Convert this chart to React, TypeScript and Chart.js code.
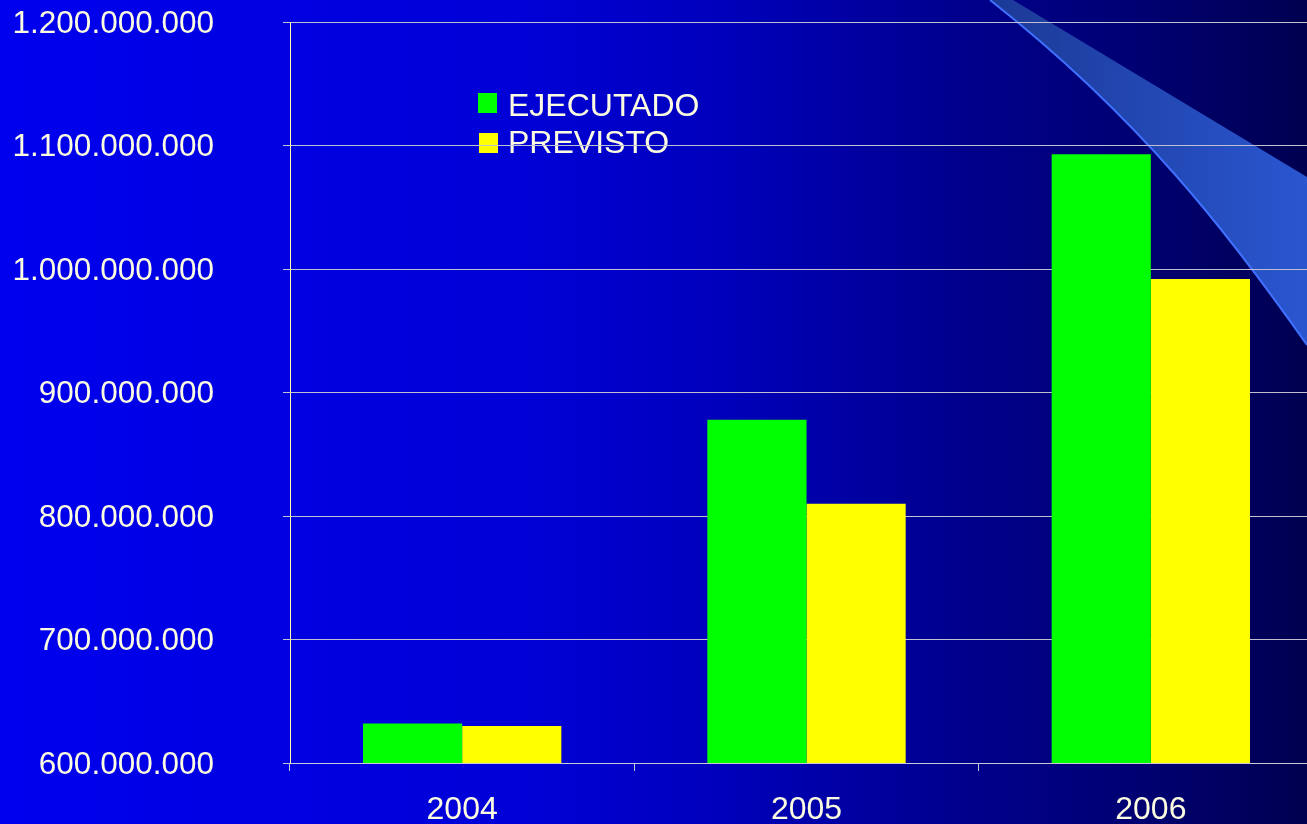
import React, { useEffect, useRef } from "react";
import { Chart, registerables } from "chart.js";

Chart.register(...registerables);

const categories = ["2004", "2005", "2006"];
const seriesNames = ["EJECUTADO", "PREVISTO"];
const ejecutado = [632000000, 878000000, 1093000000];
const previsto = [630000000, 810000000, 992000000];
const yMin = 600000000;
const yMax = 1200000000;
const yStep = 100000000;

const TEXT = "#fcfce0";
const FONT = "'Liberation Sans', Arial, sans-serif";

function fmt(v: number): string {
  return Math.round(v)
    .toString()
    .replace(/\B(?=(\d{3})+(?!\d))/g, ".");
}

const bgPlugin = {
  id: "bgSwoosh",
  beforeDraw(chart: any) {
    const { ctx } = chart;
    const W = 1307;
    const H = chart.height;
    ctx.save();
    const g = ctx.createLinearGradient(0, 0, W, 0);
    g.addColorStop(0, "#0000ee");
    g.addColorStop(0.4, "#0000d6");
    g.addColorStop(0.55, "#0000bc");
    g.addColorStop(0.73, "#00008e");
    g.addColorStop(0.88, "#000070");
    g.addColorStop(1, "#000050");
    ctx.fillStyle = g;
    ctx.fillRect(0, 0, chart.width, H);

    // decorative swoosh
    const sg = ctx.createLinearGradient(1000, 0, W, 0);
    sg.addColorStop(0, "#1c3a98");
    sg.addColorStop(1, "#2a56d0");
    ctx.beginPath();
    ctx.moveTo(990, 0);
    ctx.lineTo(1013, 0);
    ctx.lineTo(W, 177);
    ctx.lineTo(W, 345);
    ctx.bezierCurveTo(1230, 235, 1140, 118, 990, 0);
    ctx.closePath();
    ctx.fillStyle = sg;
    ctx.fill();
    ctx.beginPath();
    ctx.moveTo(990, 0);
    ctx.bezierCurveTo(1140, 118, 1230, 235, W, 345);
    ctx.strokeStyle = "#3f70ff";
    ctx.lineWidth = 2;
    ctx.stroke();

    // legend (drawn under grid lines as in reference)
    const ds = chart.data.datasets;
    ctx.font = `32px ${FONT}`;
    ctx.textBaseline = "middle";
    ctx.textAlign = "left";
    const boxY = [103, 143];
    const textY = [107, 144];
    ds.forEach((d: any, i: number) => {
      ctx.fillStyle = d.backgroundColor;
      ctx.fillRect(478 + i, boxY[i] - 10, 19, 20);
      ctx.fillStyle = TEXT;
      ctx.fillText(d.label, 508, textY[i]);
    });
    ctx.restore();
  },
};

export default function App() {
  const ref = useRef<HTMLCanvasElement | null>(null);
  useEffect(() => {
    document.body.style.margin = "0";
    document.body.style.overflow = "hidden";
    const canvas = ref.current!;
    const chart = new Chart(canvas, {
      type: "bar",
      data: {
        labels: categories,
        datasets: [
          {
            label: seriesNames[0],
            data: ejecutado,
            backgroundColor: "#00ff00",
            borderWidth: 0,
          },
          {
            label: seriesNames[1],
            data: previsto,
            backgroundColor: "#ffff00",
            borderWidth: 0,
          },
        ],
      },
      options: {
        responsive: false,
        animation: false,
        devicePixelRatio: 1,
        layout: { padding: { top: 22, left: 0, right: 0, bottom: 0 } },
        plugins: {
          legend: { display: false },
          tooltip: { enabled: false },
        },
        datasets: {
          bar: { categoryPercentage: 0.576, barPercentage: 1 },
        },
        scales: {
          x: {
            offset: true,
            grid: {
              display: true,
              offset: true,
              drawOnChartArea: false,
              tickLength: 8,
              color: "#c8c8d8",
            },
            border: { display: true, color: "#c8c8d8", width: 1 },
            ticks: {
              color: TEXT,
              font: { family: FONT, size: 32 },
              padding: 20,
              maxRotation: 0,
            },
            afterFit(scale: any) {
              scale.height = 61;
              scale.paddingLeft = 0;
              scale.paddingRight = 0;
            },
          },
          y: {
            min: yMin,
            max: yMax,
            grid: {
              color: "#c0c0d0",
              lineWidth: 1,
              tickLength: 7,
            },
            border: { display: true, color: "#ffffb0", width: 1 },
            ticks: {
              stepSize: yStep,
              color: TEXT,
              font: { family: FONT, size: 31.5 },
              padding: 69,
              labelOffset: 2,
              callback: (v: any) => fmt(Number(v)),
            },
            afterFit(scale: any) {
              scale.width = 290;
              scale.paddingTop = 0;
              scale.paddingBottom = 0;
            },
          },
        },
      },
      plugins: [bgPlugin],
    });
    return () => chart.destroy();
  }, []);
  return (
    <div style={{ width: 1307, height: 824, overflow: "hidden", position: "relative" }}>
      <canvas ref={ref} width={1323} height={824} style={{ display: "block" }} />
    </div>
  );
}
